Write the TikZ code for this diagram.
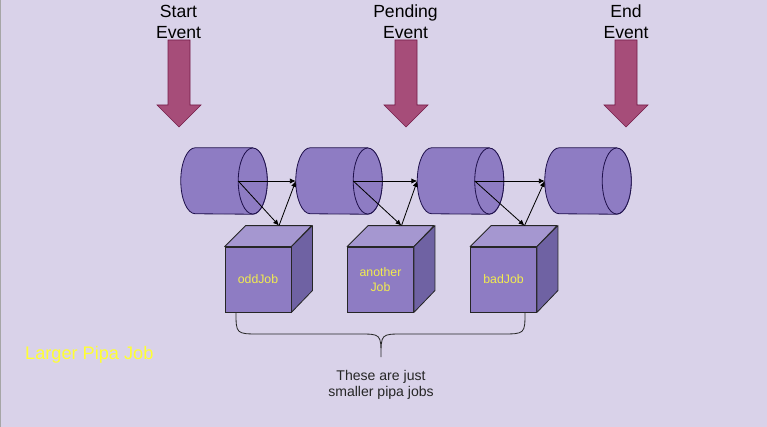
\documentclass[tikz,border=0pt]{standalone}
\usepackage{fontspec}
\setmainfont{Liberation Sans}
\usetikzlibrary{positioning,arrows.meta,calc}
\newlength{\pxu}
\setlength{\pxu}{0.03cm}
\definecolor{bglav}{HTML}{D9D2E9}
\definecolor{jobpurple}{HTML}{8E7CC3}
\definecolor{jobtop}{HTML}{A597D0}
\definecolor{jobside}{HTML}{6F62A3}
\definecolor{cylline}{HTML}{20124D}
\definecolor{evfill}{HTML}{A64D79}
\definecolor{evline}{HTML}{741B47}
\definecolor{jobtext}{HTML}{F2EC4F}
\definecolor{bigtext}{HTML}{FFFF33}
\tikzset{
  link/.style={-{Latex[length=5pt,width=4.5pt]}, line width=0.7pt},
  queue/.style={minimum width=57\pxu, minimum height=66\pxu, inner sep=0pt},
  queueline/.style={draw=cylline, line width=0.7pt, fill=jobpurple},
  jobbox/.style={draw=black!85, line width=0.7pt, fill=jobpurple, minimum width=66\pxu, minimum height=65\pxu, inner sep=0pt, align=center, text=jobtext, font=\fontsize{10.5}{13}\selectfont},
  topface/.style={draw=black!85, line width=0.7pt, fill=jobtop, line join=round},
  sideface/.style={draw=black!85, line width=0.7pt, fill=jobside, line join=round},
  evlabel/.style={font=\fontsize{15}{18}\selectfont, align=center, inner sep=0pt},
  evarrow/.style={fill=evfill, draw=evline, line width=0.5pt, line join=miter}
}
\begin{document}
\begin{tikzpicture}[x=\pxu, y=-\pxu]
  \fill[bglav] (0,0) rectangle (767,427);
  \useasboundingbox (0,0) rectangle (767,427);
  \draw[gray!70, line width=0.6pt] (0.5,0) -- (0.5,427);

  % events
  \node[evlabel] (startLbl) at (178.5,22) {Start\\Event};
  \node[evlabel] (pendLbl) at (405.5,22) {Pending\\Event};
  \node[evlabel] (endLbl) at (626,22) {End\\Event};
  \foreach \ex in {179,406,626}
    \draw[evarrow] (\ex-11,40) -- (\ex+11,40) -- (\ex+11,105) -- (\ex+22,105)
      -- (\ex,127) -- (\ex-22,105) -- (\ex-11,105) -- cycle;

  % queues
  \node[queue] (cyl1) at (224,181) {};
  \node[queue] (cyl2) at (339,181) {};
  \node[queue] (cyl3) at (460.5,181) {};
  \node[queue] (cyl4) at (588,181) {};
  \foreach \c in {cyl1,cyl2,cyl3,cyl4} {
    \draw[queueline] (\c.north east) -- (\c.north west)
      arc[start angle=90, end angle=270, x radius=14.5\pxu, y radius=33\pxu]
      -- (\c.south east)
      arc[start angle=-90, end angle=90, x radius=14.5\pxu, y radius=33\pxu] -- cycle;
    \draw[queueline] (\c.east) ellipse[x radius=14.5\pxu, y radius=33\pxu];
    \coordinate (\c-in) at ($(\c.east)+(-14.5,0)$);
    \coordinate (\c-left) at ($(\c.west)+(-14.5,0)$);
  }

  % jobs
  \node[jobbox] (odd) at (258,279.5) {oddJob};
  \node[jobbox] (another) at (380.5,279.5) {another\\Job};
  \node[jobbox] (bad) at (503.5,279.5) {badJob};
  \foreach \j in {odd,another,bad} {
    \draw[topface] (\j.north west) -- ++(21,-21) -- ++(66,0) -- (\j.north east) -- cycle;
    \draw[sideface] (\j.north east) -- ++(21,-21) -- ++(0,65) -- (\j.south east) -- cycle;
    \coordinate (\j-top) at ($(\j.north)+(21,-21)$);
  }

  \draw[link] (cyl1-in) -- (cyl2-left);
  \draw[link] (cyl1-in) -- (odd-top);
  \draw[link] (odd-top) -- (cyl2-left);
  \draw[link] (cyl2-in) -- (cyl3-left);
  \draw[link] (cyl2-in) -- (another-top);
  \draw[link] (another-top) -- (cyl3-left);
  \draw[link] (cyl3-in) -- (cyl4-left);
  \draw[link] (cyl3-in) -- (bad-top);
  \draw[link] (bad-top) -- (cyl4-left);

  % brace
  \coordinate (braceL) at (236,312);
  \coordinate (braceR) at (525,312);
  \coordinate (braceTip) at (381,357);
  \draw[line width=0.7pt, black!85] (braceL) .. controls (236,334) .. (260,334) -- (359,334)
    .. controls (381,334) .. (braceTip) .. controls (381,334) .. (403,334) -- (501,334)
    .. controls (525,334) .. (braceR);

  \node[font=\fontsize{12}{14}\selectfont, align=center, text=black!85, below=9\pxu of braceTip] (note) {These are just\\smaller pipa jobs};
  \node[font=\fontsize{15.5}{18}\selectfont, text=bigtext, anchor=west, inner sep=0pt] (larger) at (25,355) {Larger Pipa Job};
\end{tikzpicture}
\end{document}
